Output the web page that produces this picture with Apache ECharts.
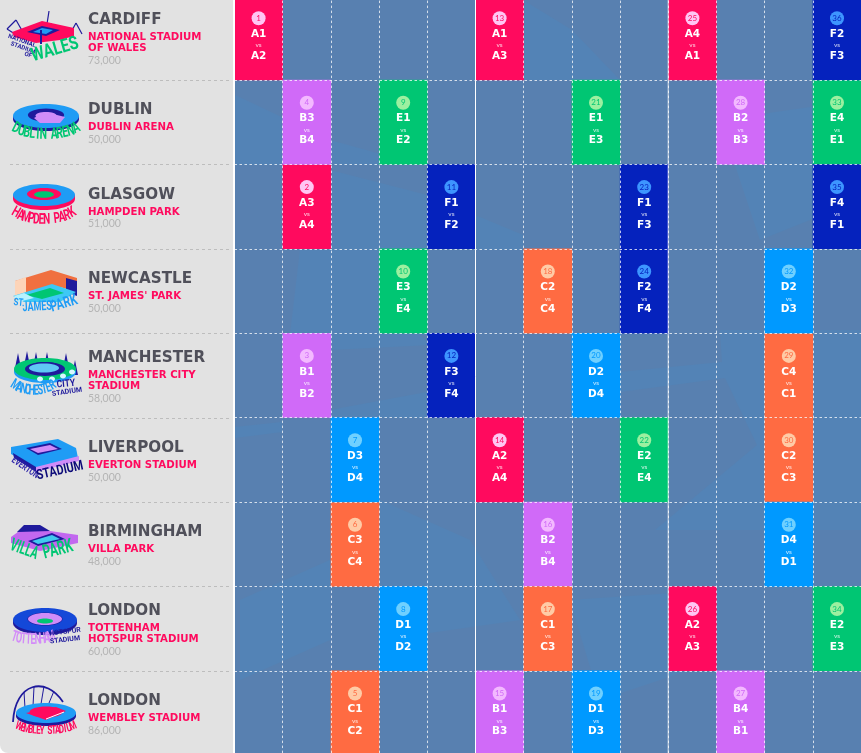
<!DOCTYPE html>
<html>
<head>
<meta charset="utf-8">
<style>html,body{margin:0;padding:0;background:#fff}#main{width:861px;height:753px}</style>
<script src="https://cdn.jsdelivr.net/npm/echarts@6/dist/echarts.min.js"></script>
</head>
<body>
<div id="main"></div>
<script>
var cities = ['CARDIFF', 'DUBLIN', 'GLASGOW', 'NEWCASTLE', 'MANCHESTER', 'LIVERPOOL', 'BIRMINGHAM', 'LONDON', 'LONDON'];
var stadiums = [
  ['NATIONAL STADIUM', 'OF WALES'], ['DUBLIN ARENA'], ['HAMPDEN PARK'], ["ST. JAMES' PARK"],
  ['MANCHESTER CITY', 'STADIUM'], ['EVERTON STADIUM'], ['VILLA PARK'], ['TOTTENHAM', 'HOTSPUR STADIUM'], ['WEMBLEY STADIUM']
];
var capacities = ['73,000', '50,000', '51,000', '50,000', '58,000', '50,000', '48,000', '60,000', '86,000'];
var dayColumns = ['0', '1', '2', '3', '4', '5', '6', '7', '8', '9', '10', '11', '12'];

// match number is position + 1
var matchRow = [0, 2, 4, 1, 8, 6, 5, 7, 1, 3, 2, 4, 0, 5, 8, 6, 7, 3, 8, 4, 1, 5, 2, 3, 0, 7, 8, 1, 4, 5, 6, 3, 1, 7, 2, 0];
var matchCol = [0, 1, 1, 1, 2, 2, 2, 3, 3, 3, 4, 4, 5, 5, 5, 6, 6, 6, 7, 7, 7, 8, 8, 8, 9, 9, 10, 10, 11, 11, 11, 11, 12, 12, 12, 12];
var homeTeam = ['A1', 'A3', 'B1', 'B3', 'C1', 'C3', 'D3', 'D1', 'E1', 'E3', 'F1', 'F3', 'A1', 'A2', 'B1', 'B2', 'C1', 'C2', 'D1', 'D2', 'E1', 'E2', 'F1', 'F2', 'A4', 'A2', 'B4', 'B2', 'C4', 'C2', 'D4', 'D2', 'E4', 'E2', 'F4', 'F2'];
var awayTeam = ['A2', 'A4', 'B2', 'B4', 'C2', 'C4', 'D4', 'D2', 'E2', 'E4', 'F2', 'F4', 'A3', 'A4', 'B3', 'B4', 'C3', 'C4', 'D3', 'D4', 'E3', 'E4', 'F3', 'F4', 'A1', 'A3', 'B1', 'B3', 'C1', 'C3', 'D1', 'D3', 'E1', 'E3', 'F1', 'F3'];

var groupColor = { A: '#ff0a5e', B: '#d06af8', C: '#ff6b42', D: '#0099ff', E: '#00c673', F: '#0522bd' };
var badgeColor = { A: '#ffc6f3', B: '#f3b9ff', C: '#ffcba6', D: '#6fd0ff', E: '#9cf0a0', F: '#3d95ff' };

var gridLeft = 234.5, gridTop = -4.4, colW = 48.2, rowH = 84.4;
var FONT = '"DejaVu Sans", sans-serif';
var NARROW = '"Liberation Sans Narrow", "Roboto", sans-serif';

var myChart = echarts.init(document.getElementById('main'), null, { renderer: 'canvas' });

var rich = {
  t: { color: '#fff', fontFamily: FONT, fontWeight: 'bold', fontSize: 10.5, lineHeight: 11 },
  v: { color: 'rgba(255,255,255,0.8)', fontFamily: 'Lato', fontSize: 6.5, lineHeight: 11 }
};
Object.keys(groupColor).forEach(function (g) {
  rich['n' + g] = {
    width: 14, height: 14, lineHeight: 21, align: 'center', verticalAlign: 'middle', borderRadius: 7,
    backgroundColor: badgeColor[g], color: groupColor[g], fontFamily: 'Lato', fontSize: 8
  };
});

var cells = matchRow.map(function (row, i) {
  var g = homeTeam[i][0];
  return {
    value: [matchCol[i], row, i + 1],
    itemStyle: { color: groupColor[g] },
    label: {
      formatter: '{n' + g + '|' + (i + 1) + '}\n{t|' + homeTeam[i] + '}\n{v|vs}\n{t|' + awayTeam[i] + '}'
    }
  };
});

// --- little stadium drawings
function ell(cx, cy, rx, ry, fill, rot) {
  return { type: 'ellipse', x: cx, y: cy, rotation: rot || 0, z: 3, shape: { cx: 0, cy: 0, rx: rx, ry: ry }, style: { fill: fill } };
}
function poly(points, fill) {
  return { type: 'polygon', z: 3, shape: { points: points }, style: { fill: fill } };
}
function line(x1, y1, x2, y2, stroke, w) {
  return { type: 'line', z: 3, shape: { x1: x1, y1: y1, x2: x2, y2: y2 }, style: { stroke: stroke, lineWidth: w || 1.2 } };
}
function word(s, x, y, size, color, rot, sy) {
  return {
    type: 'text', x: x, y: y, z: 4, rotation: rot || 0, scaleY: sy || 1,
    style: { text: s, fill: color, fontFamily: NARROW, fontWeight: 'bold', fontSize: size, align: 'center', verticalAlign: 'middle' }
  };
}
// letters spaced evenly in x along the lower edge of an ellipse
function arcWord(s, cx, cy, rx, ry, size, color, sy) {
  var out = [];
  for (var i = 0; i < s.length; i++) {
    var dx = rx * (2 * (i + 0.5) / s.length - 1);
    var h = Math.sqrt(1 - dx * dx / (rx * rx));
    var slope = -ry * ry * dx / (rx * rx * ry * h);
    out.push(word(s[i], cx + dx, cy + ry * h, size, color, -Math.atan(slope) * 0.7, sy));
  }
  return out;
}
// oval bowl: thin wall below, roof, hole, pitch
function bowl(cx, cy, rx, ry, depth, wall, roof, hole, pitch) {
  return [
    ell(cx, cy + depth, rx, ry, wall),
    { type: 'rect', z: 3, shape: { x: cx - rx, y: cy, width: rx * 2, height: depth }, style: { fill: wall } },
    ell(cx, cy, rx, ry, roof),
    ell(cx, cy - 1, rx * 0.55, ry * 0.55, hole),
    ell(cx, cy - 0.5, rx * 0.32, ry * 0.3, pitch)
  ];
}

var NAVY = '#1f1a9c', PINK = '#ff0a5e', BLUE = '#1f9cf5', GREEN = '#00c673', LILAC = '#cf8cf8';

function stadiumIcons() {
  var e = [];
  // Cardiff
  e.push(line(49, 11, 47, 24, NAVY), line(46, 24, 52, 24, NAVY), line(7, 29, 16, 20, NAVY), line(16, 20, 24, 34, NAVY),
    line(7, 29, 18, 36, NAVY), line(76, 23, 70, 34, NAVY), line(76, 23, 82, 34, NAVY));
  e.push(poly([[12, 32], [42, 21], [74, 28], [74, 36], [60, 40], [36, 43], [14, 37]], PINK));
  e.push(poly([[27, 32], [42, 26], [60, 30], [46, 36]], NAVY), poly([[33, 32], [42, 28], [53, 30], [46, 34]], BLUE));
  e.push(line(41, 44, 41, 30, NAVY, 2));
  e.push(word('NATIONAL', 22, 41, 6, NAVY, -0.35), word('STADIUM', 23, 48, 6, NAVY, -0.35), word('OF', 28, 55, 6, NAVY, -0.35));
  e.push(word('WALES', 55, 50, 15, GREEN, 0.28, 1.25));
  // Dublin
  e = e.concat(bowl(46, 116, 33, 12, 3, NAVY, BLUE, NAVY, LILAC));
  e.push(poly([[34, 118], [45, 112], [65, 117], [60, 123], [40, 123]], LILAC));
  e = e.concat(arcWord('DUBLIN ARENA', 46, 124, 33, 11, 10.5, GREEN, 1.5));
  // Glasgow
  e = e.concat(bowl(44, 195, 31, 11, 4, PINK, BLUE, PINK, GREEN));
  e = e.concat(arcWord('HAMPDEN PARK', 44, 208, 31, 12, 10, PINK, 1.5));
  // Newcastle
  e.push(poly([[15, 281], [51, 270], [77, 278], [77, 292], [60, 287], [15, 300]], '#f07040'));
  e.push(poly([[15, 281], [26, 277], [26, 295], [15, 298]], '#fdd4b8'));
  e.push(poly([[66, 278], [77, 281], [77, 296], [66, 292]], NAVY));
  e.push(poly([[13, 296], [52, 284], [76, 292], [60, 302], [24, 302]], '#3ec8f5'));
  e.push(poly([[26, 295], [50, 288], [64, 293], [42, 299]], GREEN));
  e.push(poly([[14, 296], [24, 293], [34, 298], [18, 302]], '#b6f2ff'));
  e.push(word('ST.', 19, 303, 8, BLUE, -0.1, 1.3), word('JAMES\'', 38, 307, 9, BLUE, 0.05, 1.5), word('PARK', 64, 304, 11, BLUE, 0.3, 1.4));
  // Manchester
  [[18, 354], [27, 352], [36, 353], [47, 353], [66, 354], [75, 361]].forEach(function (p) {
    e.push(poly([[p[0], p[1] - 1], [p[0] - 3, p[1] + 14], [p[0] + 3, p[1] + 14]], NAVY));
  });
  e = e.concat(bowl(45, 369, 31, 11, 3, BLUE, GREEN, NAVY, '#8fe8ff'));
  e.push(ell(45, 369, 20, 7, NAVY), ell(44, 368, 15, 4.5, '#5fc8f5'));
  [[40, 379], [52, 379], [63, 376], [72, 372]].forEach(function (p) { e.push(ell(p[0], p[1], 3, 2.5, '#d8f7ff')); });
  e = e.concat(arcWord('MANCHESTER', 34, 381, 21, 10, 9, BLUE, 1.6));
  e.push(word('CITY', 66, 384, 8.5, NAVY, 0.1, 1.2), word('STADIUM', 67, 392, 7, NAVY, 0.15));
  // Liverpool
  e.push(poly([[11, 447], [58, 439], [76, 448], [78, 458], [36, 468], [11, 454]], BLUE));
  e.push(poly([[26, 448], [50, 443], [62, 449], [38, 455]], NAVY), poly([[30, 449], [50, 445], [58, 449], [38, 453]], LILAC));
  e.push(poly([[36, 467], [79, 456], [79, 461], [36, 472]], LILAC));
  e.push(poly([[13, 453], [36, 467], [36, 472], [14, 458]], NAVY));
  e.push(word('EVERTON', 25, 468, 7, '#2a1fa8', -0.6, 1.3), word('STADIUM', 60, 471, 11, '#0c0a78', 0.22, 1.25));
  // Birmingham
  e.push(poly([[17, 532], [24, 525], [40, 525], [50, 531], [30, 540]], NAVY));
  e.push(poly([[11, 537], [18, 532], [50, 531], [78, 535], [78, 543], [40, 551], [11, 543]], '#c268ef'));
  e.push(poly([[28, 541], [52, 533], [65, 539], [38, 546]], NAVY), poly([[32, 541], [52, 535], [60, 539], [38, 544]], '#42c9ef'));
  e.push(word('VILLA', 24, 550, 10.5, GREEN, -0.35, 1.7), word('PARK', 58, 550, 12, GREEN, 0.25, 1.6));
  // Tottenham
  e = e.concat(bowl(45, 620, 32, 12, 3, NAVY, '#1448d8', NAVY, LILAC));
  e.push(ell(45, 619, 17, 6, LILAC), ell(45, 621, 8, 2.5, GREEN));
  e = e.concat(arcWord('TOTTENHAM', 33, 635, 21, 5, 9, '#d38cf8', 1.7));
  e.push(word('HOTSPUR', 65, 632, 7, NAVY, 0.12), word('STADIUM', 65, 640, 7, NAVY, 0.12));
  // Wembley
  e.push({ type: 'bezierCurve', z: 3, shape: { x1: 13, y1: 722, cpx1: 15, cpy1: 682, cpx2: 46, cpy2: 676, x2: 63, y2: 702 }, style: { stroke: NAVY, fill: 'none', lineWidth: 1.8 } });
  [[24, 692, 25, 708], [34, 687, 33, 706], [44, 686, 41, 704], [54, 691, 49, 703]].forEach(function (l) { e.push(line(l[0], l[1], l[2], l[3], NAVY, 1)); });
  e = e.concat(bowl(46, 713, 30, 10, 3, NAVY, BLUE, PINK, PINK));
  e.push(poly([[26, 713], [56, 707], [66, 711], [46, 720]], PINK));
  e.push(line(46, 719, 64, 712, '#fff', 1));
  e = e.concat(arcWord('WEMBLEY STADIUM', 46, 724, 29, 7, 8, PINK, 1.5));
  return e;
}

// faint shapes on the blue background
var swooshes = [
  [[300, 250], [427, 250], [427, 335], [290, 335]],
  [[330, 170], [427, 195], [427, 250], [330, 250]],
  [[475, 215], [523, 235], [523, 250], [475, 250]],
  [[330, 335], [420, 335], [430, 345], [330, 350]],
  [[330, 410], [427, 392], [427, 418], [330, 418]],
  [[235, 427], [282, 422], [282, 432], [235, 438]],
  [[720, 330], [861, 330], [861, 530], [655, 530], [757, 445], [725, 378], [620, 392], [620, 372], [722, 362]],
  [[235, 95], [330, 140], [420, 165], [235, 165]],
  [[523, 0], [572, 30], [620, 80], [523, 80]],
  [[380, 500], [470, 540], [520, 620], [380, 640]],
  [[570, 600], [720, 590], [720, 660], [600, 700]],
  [[240, 600], [330, 560], [330, 640], [240, 680]],
  [[720, 120], [860, 100], [860, 200], [760, 240]]
];

var decor = [];
decor.push({ type: 'rect', z: -10, shape: { x: 234, y: 0, width: 627, height: 753 }, style: { fill: '#5880b0' } });
swooshes.forEach(function (p) {
  decor.push({ type: 'polygon', z: -9, shape: { points: p }, style: { fill: '#5383b6' } });
});
decor.push({ type: 'rect', z: -8, shape: { x: 0, y: 0, width: 233, height: 753, r: [0, 0, 0, 8] }, style: { fill: '#e2e2e2' } });
for (var i = 1; i < cities.length; i++) {
  var yy = Math.round(gridTop + rowH * i) + 0.5;
  decor.push({ type: 'line', z: -7, shape: { x1: 10, y1: yy, x2: 232, y2: yy }, style: { stroke: '#bdbdbd', lineWidth: 1, lineDash: [3, 3] } });
}
// solid dividers between the match rounds
decor.push({ type: 'line', z: 10, shape: { x1: 234, y1: 0, x2: 234, y2: 753 }, style: { stroke: '#fff', lineWidth: 2 } });
decor.push({ type: 'line', z: 10, shape: { x1: gridLeft + colW * 5, y1: 0, x2: gridLeft + colW * 5, y2: 753 }, style: { stroke: '#fff', lineWidth: 1 } });
decor.push({ type: 'line', z: 10, shape: { x1: gridLeft + colW * 9, y1: 0, x2: gridLeft + colW * 9, y2: 753 }, style: { stroke: 'rgba(255,255,255,0.55)', lineWidth: 1.5 } });
decor = decor.concat(stadiumIcons());

var gridLines = { show: true, interval: 0, lineStyle: { color: 'rgba(255,255,255,0.75)', type: [2.5, 2.5], width: 1 } };

var option = {
  animation: false,
  backgroundColor: '#fff',
  graphic: { elements: decor },
  grid: { left: gridLeft, top: gridTop, width: colW * 13, height: rowH * 9, outerBoundsMode: 'none' },
  xAxis: {
    type: 'category', data: dayColumns, z: 3,
    axisLine: { show: false }, axisTick: { show: false }, axisLabel: { show: false },
    splitLine: gridLines, splitArea: { show: false }
  },
  yAxis: {
    type: 'category', data: cities, inverse: true, z: 3,
    axisLine: { show: false }, axisTick: { show: false },
    splitLine: gridLines, splitArea: { show: false },
    axisLabel: {
      margin: gridLeft - 88,
      align: 'left',
      interval: 0,
      formatter: function (value, idx) {
        var s = stadiums[idx].map(function (l) { return '{s|' + l + '}'; }).join('\n');
        return '{c|' + value + '}\n' + s + '\n{k|' + capacities[idx] + '}';
      },
      rich: {
        c: { color: '#50505a', fontFamily: FONT, fontWeight: 'bold', fontSize: 15.2, lineHeight: 24 },
        s: { color: '#ff0a5e', fontFamily: FONT, fontWeight: 'bold', fontSize: 10.2, lineHeight: 11 },
        k: { color: '#b4b4b4', fontFamily: 'Lato', fontSize: 10.5, lineHeight: 13 }
      }
    }
  },
  series: [{
    type: 'heatmap',
    z: 2,
    data: cells,
    emphasis: { disabled: true },
    label: { show: true, offset: [0, -3], rich: rich }
  }]
};

option && myChart.setOption(option);
</script>
</body>
</html>
